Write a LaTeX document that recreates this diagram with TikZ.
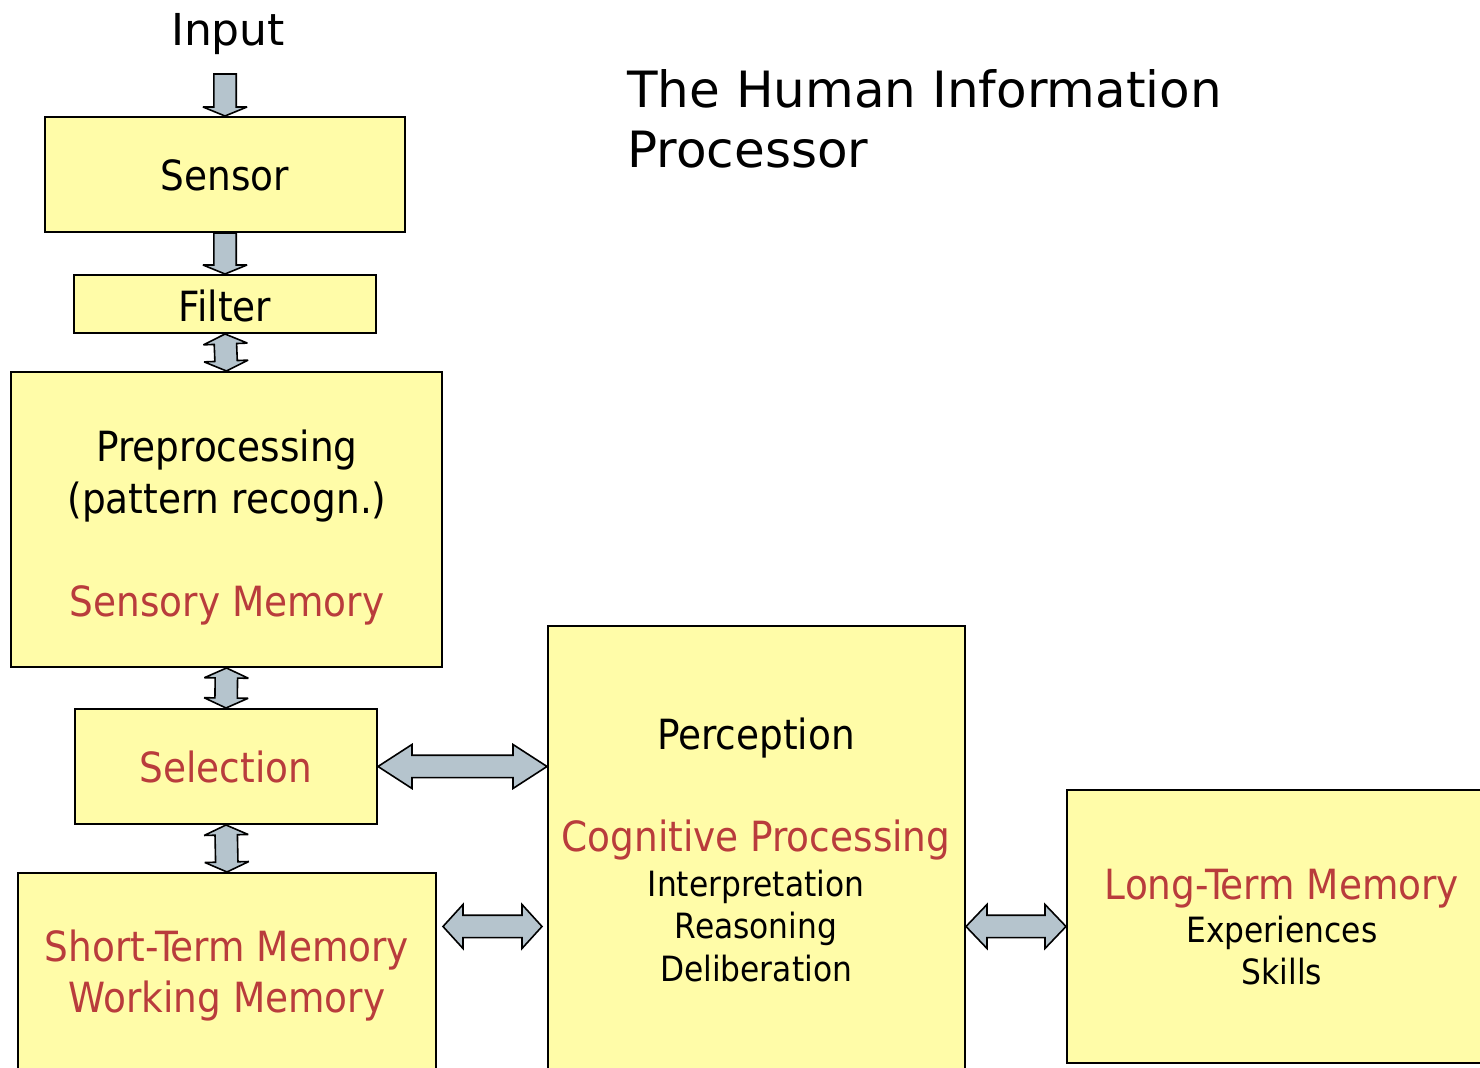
\documentclass[tikz,border=0pt]{standalone}
\usepackage{fontspec}
\setmainfont{DejaVu Sans}
\newfontfamily\boxfont{DejaVu Sans Condensed}
\usetikzlibrary{calc}
\definecolor{boxyellow}{RGB}{255,252,168}
\definecolor{memred}{RGB}{185,60,60}
\definecolor{arrowgray}{RGB}{181,196,205}
\tikzset{
  block/.style={draw=black, line width=1pt, fill=boxyellow, inner sep=0pt},
  txt/.style={font=\boxfont\fontsize{20.8}{25}\selectfont, anchor=base, inner sep=0pt},
  smalltxt/.style={txt, font=\boxfont\fontsize{17.4}{21}\selectfont},
  redtxt/.style={txt, text=memred},
  blockarrow/.style={draw=black, line width=0.8pt, fill=arrowgray, line join=miter, miter limit=4}
}
\newcommand{\headw}{11pt}
\newcommand{\shaftw}{5.6pt}
% block arrows: from #1 to #2, head length #3
\newcommand{\sglarrow}[3]{%
  \path (#1) coordinate (p0) (#2) coordinate (p1) ($(p1)!#3!(p0)$) coordinate (q1);
  \draw[blockarrow] ($(p0)!\shaftw!90:(p1)$) -- ($(q1)!\shaftw!-90:(p0)$)
    -- ($(q1)!\headw!-90:(p0)$) -- (p1) -- ($(q1)!\headw!90:(p0)$)
    -- ($(q1)!\shaftw!90:(p0)$) -- ($(p0)!\shaftw!-90:(p1)$) -- cycle;}
\newcommand{\dblarrow}[3]{%
  \path (#1) coordinate (p0) (#2) coordinate (p1)
    ($(p0)!#3!(p1)$) coordinate (q0) ($(p1)!#3!(p0)$) coordinate (q1);
  \draw[blockarrow] (p0) -- ($(q0)!\headw!90:(p1)$) -- ($(q0)!\shaftw!90:(p1)$)
    -- ($(q1)!\shaftw!-90:(p0)$) -- ($(q1)!\headw!-90:(p0)$) -- (p1)
    -- ($(q1)!\headw!90:(p0)$) -- ($(q1)!\shaftw!90:(p0)$)
    -- ($(q0)!\shaftw!-90:(p1)$) -- ($(q0)!\headw!-90:(p1)$) -- cycle;}

\begin{document}
\begin{tikzpicture}[x=0.5pt, y=-0.5pt]
  \useasboundingbox (0,0) rectangle (1480,1068);
  \clip (0,0) rectangle (1480,1068);

  % title and input
  \node[font=\fontsize{25}{30}\selectfont, anchor=base west, inner sep=0pt] (title1) at (627,108) {The Human Information};
  \node[font=\fontsize{25}{30}\selectfont, anchor=base west, inner sep=0pt] (title2) at (627,168) {Processor};
  \node[font=\fontsize{22}{26}\selectfont, anchor=base, inner sep=0pt] (input) at (228,46) {Input};

  % boxes
  \node[block, minimum width=180pt, minimum height=57.5pt] (sensor) at (225,174.5) {};
  \node[block, minimum width=151pt, minimum height=29pt] (filter) at (225,304) {};
  \node[block, minimum width=215.5pt, minimum height=147.5pt] (preproc) at (226.5,519.5) {};
  \node[block, minimum width=151pt, minimum height=57.5pt] (selection) at (226,766.5) {};
  \node[block, minimum width=209pt, minimum height=113.5pt] (stm) at (227,986.5) {};
  \node[block, minimum width=208.5pt, minimum height=237pt] (perception) at (756.5,863) {};
  \node[block, minimum width=211.5pt, minimum height=136.5pt] (ltm) at (1278.5,926.5) {};

  % box texts
  \node[txt] (sensortxt) at (225,191) {Sensor};
  \node[txt] (filtertxt) at (225,322) {Filter};
  \node[txt] (pretxt1) at (227,462) {Preprocessing};
  \node[txt] (pretxt2) at (227,514) {(pattern recogn.)};
  \node[redtxt] (pretxt3) at (227,617) {Sensory Memory};
  \node[redtxt] (seltxt) at (226,783) {Selection};
  \node[redtxt] (stmtxt1) at (227,962) {Short-Term Memory};
  \node[redtxt] (stmtxt2) at (227,1013) {Working Memory};
  \node[txt] (pertxt1) at (756,750) {Perception};
  \node[redtxt] (pertxt2) at (756,852) {Cognitive Processing};
  \node[smalltxt] (pertxt3) at (756,897) {Interpretation};
  \node[smalltxt] (pertxt4) at (756,939) {Reasoning};
  \node[smalltxt] (pertxt5) at (756,982) {Deliberation};
  \node[redtxt] (ltmtxt1) at (1282,900) {Long-Term Memory};
  \node[smalltxt] (ltmtxt2) at (1282,943) {Experiences};
  \node[smalltxt] (ltmtxt3) at (1282,985) {Skills};

  % arrows
  \coordinate (in) at (225,74);
  \sglarrow{in}{sensor.north}{4.5pt}
  \sglarrow{sensor.south}{filter.north}{4.5pt}
  \dblarrow{filter.south}{preproc.north}{5pt}
  \dblarrow{preproc.south}{selection.north}{5pt}
  \dblarrow{selection.south}{stm.north}{5pt}
  \coordinate (selp) at (selection.east -| perception.west);
  \dblarrow{selection.east}{selp}{17pt}
  \coordinate (stmr) at ($(stm.east |- ltm.west)+(6,0)$);
  \coordinate (perl) at ($(perception.west |- ltm.west)+(-5,0)$);
  \dblarrow{stmr}{perl}{10pt}
  \coordinate (perr) at (perception.east |- ltm.west);
  \dblarrow{perr}{ltm.west}{10.5pt}
\end{tikzpicture}
\end{document}
